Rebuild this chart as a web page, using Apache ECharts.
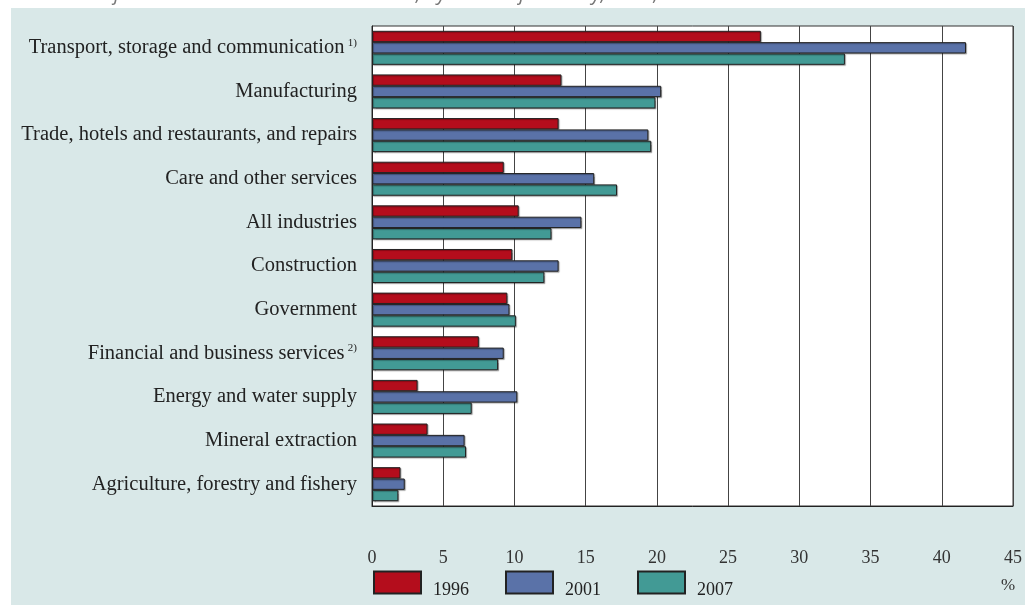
<!DOCTYPE html>
<html>
<head>
<meta charset="utf-8">
<script src="https://cdn.jsdelivr.net/npm/echarts@6/dist/echarts.min.js"></script>
<style>
  html, body { margin: 0; padding: 0; background: #ffffff; }
  #chart { width: 1025px; height: 605px; }
</style>
</head>
<body>
<div id="chart"></div>
<script>
// Sectors, top to bottom
const categories = [
  'Transport, storage and communication',
  'Manufacturing',
  'Trade, hotels and restaurants, and repairs',
  'Care and other services',
  'All industries',
  'Construction',
  'Government',
  'Financial and business services',
  'Energy and water supply',
  'Mineral extraction',
  'Agriculture, forestry and fishery'
];
// Footnote markers attached to some sector names
const footnotes = ['1)', '', '', '', '', '', '', '2)', '', '', ''];

// Shares (%) per year
const values1996 = [27.3, 13.3, 13.1, 9.25, 10.3, 9.85, 9.5, 7.5, 3.2, 3.9, 2.0];
const values2001 = [41.7, 20.3, 19.4, 15.6, 14.7, 13.1, 9.65, 9.25, 10.2, 6.5, 2.3];
const values2007 = [33.2, 19.9, 19.6, 17.2, 12.6, 12.1, 10.1, 8.85, 7.0, 6.6, 1.85];

const years = ['1996', '2001', '2007'];
const xTicks = [0, 5, 10, 15, 20, 25, 30, 35, 40, 45];

const colors = ['#b40d1c', '#5a72a8', '#429a95'];
const serif = '"Liberation Serif", "DejaVu Serif", serif';

const chart = echarts.init(document.getElementById('chart'), null, { renderer: 'canvas' });

function barSeries(name, data, color) {
  return {
    name: name,
    type: 'bar',
    data: data,
    barGap: '0%',
    barCategoryGap: '22%',
    itemStyle: {
      color: color,
      borderColor: '#222',
      borderWidth: 1,
      shadowColor: 'rgba(0,0,0,0.3)',
      shadowOffsetX: 1,
      shadowOffsetY: 1,
      shadowBlur: 1
    },
    emphasis: { disabled: true },
    animation: false
  };
}

chart.setOption({
  animation: false,
  backgroundColor: '#ffffff',
  graphic: [
    {
      type: 'rect',
      z: -10,
      shape: { x: 11, y: 8, width: 1014, height: 597 },
      style: { fill: '#d9e8e8' },
      silent: true
    },
    {
      type: 'text',
      left: 12,
      top: -16,
      style: {
        text: '2.3  Share of ICT investment in total investment, by sector of industry, 1996, 2001 and 2007',
        font: 'italic 19.5px "Open Sans", sans-serif',
        fill: '#777'
      },
      silent: true
    },
    {
      type: 'text',
      left: 1001,
      top: 577,
      style: {
        text: '%',
        font: '17px ' + serif,
        fill: '#333'
      },
      silent: true
    }
  ],
  grid: {
    left: 372,
    right: 11,
    top: 26,
    bottom: 99,
    show: true,
    backgroundColor: '#ffffff',
    borderColor: '#333',
    borderWidth: 1
  },
  legend: {
    data: years,
    left: 373,
    top: 566,
    padding: 0,
    itemWidth: 47,
    itemHeight: 22,
    itemGap: 36,
    icon: 'rect',
    selectedMode: false,
    // an empty first line drops each year label a little below its swatch
    formatter: function (name) { return '\n' + name; },
    textStyle: {
      fontFamily: serif,
      fontSize: 18,
      lineHeight: 15,
      color: '#222',
      padding: [0, 0, 0, 7]
    }
  },
  xAxis: {
    type: 'value',
    min: xTicks[0],
    max: xTicks[xTicks.length - 1],
    interval: 5,
    axisLine: { show: true, lineStyle: { color: '#222', width: 1 } },
    axisTick: { show: false },
    axisLabel: {
      margin: 43,
      fontFamily: serif,
      fontSize: 18,
      color: '#333'
    },
    splitLine: { show: true, lineStyle: { color: '#444', width: 1 } }
  },
  yAxis: {
    type: 'category',
    data: categories,
    inverse: true,
    axisLine: { show: true, lineStyle: { color: '#222', width: 1 } },
    axisTick: { show: false },
    axisLabel: {
      margin: 15,
      formatter: function (value, idx) {
        const fn = footnotes[idx];
        return fn ? '{t|' + value + '} {s|' + fn + '}' : '{t|' + value + '}';
      },
      rich: {
        t: { fontFamily: serif, fontSize: 20.5, color: '#222' },
        s: { fontFamily: serif, fontSize: 11, color: '#222', padding: [0, 0, 10, 0] }
      }
    },
    splitLine: { show: false }
  },
  series: [
    barSeries(years[0], values1996, colors[0]),
    barSeries(years[1], values2001, colors[1]),
    barSeries(years[2], values2007, colors[2])
  ]
});
</script>
</body>
</html>
